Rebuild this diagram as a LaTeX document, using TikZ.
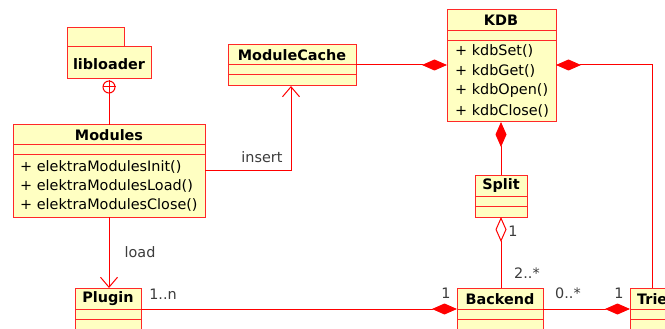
\documentclass[tikz,border=0pt]{standalone}
\usepackage{fontspec}
\setmainfont{DejaVu Sans}
\usetikzlibrary{arrows.meta}
\definecolor{umlred}{RGB}{255,40,40}
\definecolor{umlfill}{RGB}{255,255,194}
\definecolor{lblgray}{RGB}{60,60,60}
\tikzset{
  umlbox/.style={draw=umlred, fill=umlfill, line width=1pt, inner sep=0pt, outer sep=0pt, anchor=north west},
  ttl/.style={font=\fontsize{14.4}{17}\selectfont\bfseries, text=black, inner sep=0pt},
  meth/.style={font=\fontsize{14.4}{17}\selectfont, text=black, anchor=west, inner sep=0pt},
  lbl/.style={font=\fontsize{14.4}{17}\selectfont, text=lblgray, inner sep=0pt},
  conn/.style={draw=red, line width=1pt},
  sep/.style={draw=umlred, line width=1pt},
  comp/.style={conn, -{Diamond[length=25pt,width=11pt,fill=red]}},
  aggr/.style={conn, {Diamond[length=25pt,width=11pt,open,fill=white]}-},
  navarrow/.style={conn, -{Straight Barb[length=10pt,width=17pt]}},
}
\begin{document}
\begin{tikzpicture}[x=1pt,y=-1pt]
\clip (0,0) rectangle (665,329);
\fill[white] (0,0) rectangle (665,329);
% libloader package
\node[umlbox, minimum width=57pt, minimum height=19pt] (libtab) at (67,28) {};
\node[umlbox, minimum width=84pt, minimum height=32pt] (libloader) at (67,47) {};
\node[ttl] (liblbl) at (109,64) {libloader};
% Modules
\node[umlbox, minimum width=192pt, minimum height=92pt] (modules) at (13,125) {};
\draw[sep] (13,145) -- (205,145) (13,155) -- (205,155);
\node[ttl] (modttl) at (109,135) {Modules};
\node[meth] (m1) at (20,167) {+ elektraModulesInit()};
\node[meth] (m2) at (20,186) {+ elektraModulesLoad()};
\node[meth] (m3) at (20,205) {+ elektraModulesClose()};
% ModuleCache
\node[umlbox, minimum width=128pt, minimum height=41pt] (cache) at (228,45) {};
\draw[sep] (228,65) -- (356,65) (228,75) -- (356,75);
\node[ttl] (cachettl) at (292,55) {ModuleCache};
% KDB
\node[umlbox, minimum width=109pt, minimum height=112pt] (kdb) at (447,10) {};
\draw[sep] (447,31) -- (556,31) (447,41) -- (556,41);
\node[ttl] (kdbttl) at (501,20) {KDB};
\node[meth] (k1) at (455,51) {+ kdbSet()};
\node[meth] (k2) at (455,71) {+ kdbGet()};
\node[meth] (k3) at (455,91) {+ kdbOpen()};
\node[meth] (k4) at (455,111) {+ kdbClose()};
% Split
\node[umlbox, minimum width=52pt, minimum height=42pt] (split) at (475,175) {};
\draw[sep] (475,196) -- (527,196) (475,206) -- (527,206);
\node[ttl] (splitttl) at (501,186) {Split};
% Plugin
\node[umlbox, minimum width=66pt, minimum height=60pt] (plugin) at (75,288) {};
\draw[sep] (75,309) -- (141,309) (75,319) -- (141,319);
\node[ttl] (pluginttl) at (108,299) {Plugin};
% Backend
\node[umlbox, minimum width=86pt, minimum height=60pt] (backend) at (457,288) {};
\draw[sep] (457,309) -- (543,309) (457,319) -- (543,319);
\node[ttl] (backendttl) at (500,299) {Backend};
% Trie
\node[umlbox, minimum width=60pt, minimum height=60pt] (trie) at (630,288) {};
\draw[sep] (630,309) -- (690,309) (630,319) -- (690,319);
\node[ttl, anchor=west] (triettl) at (637,299) {Trie};
% nesting circle
\node[circle, draw=red, line width=1pt, minimum size=12pt, inner sep=0pt, fill=white] (nest) at (109,87) {};
\draw[conn] (nest.north) -- (nest.south) (nest.west) -- (nest.east);
\draw[conn] (nest.south) -- (modules.north);
% insert
\coordinate (insbend) at (291,170);
\draw[navarrow] (modules.east |- insbend) -- (insbend) -- (insbend |- cache.south);
\node[lbl] (inslbl) at (262,157) {insert};
% load
\draw[navarrow] (modules.south) -- (modules.south |- plugin.north);
\node[lbl] (loadlbl) at (140,252) {load};
% cache - kdb
\draw[comp] (cache.east |- 0,65) -- (kdb.west |- 0,65);
% kdb - trie
\coordinate (triebend) at (652,65);
\draw[comp] (triebend |- trie.north) -- (triebend) -- (kdb.east |- triebend);
% kdb - split
\draw[comp] (split.north) -- (kdb.south -| split.north);
% split - backend
\draw[aggr] (split.south) -- (split.south |- backend.north);
\node[lbl] (s1) at (513,231) {1};
\node[lbl] (s2) at (527,273) {2..*};
% plugin - backend
\draw[comp] (plugin.east |- 0,309) -- (backend.west |- 0,309);
\node[lbl] (p1) at (163,294) {1..n};
\node[lbl] (p2) at (446,293) {1};
% backend - trie
\draw[comp] (backend.east |- 0,309) -- (trie.west |- 0,309);
\node[lbl] (b1) at (568,293) {0..*};
\node[lbl] (b2) at (619,293) {1};
\end{tikzpicture}
\end{document}
